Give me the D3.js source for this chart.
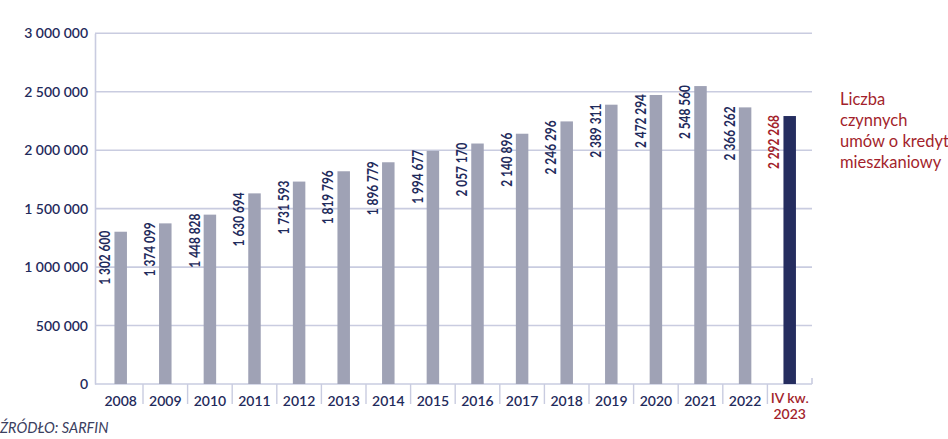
<!DOCTYPE html>
<html><head><meta charset="utf-8">
<script src="https://cdn.jsdelivr.net/npm/d3@7"></script>
<style>
html,body{margin:0;padding:0;background:#fff;}
svg{display:block;font-family:Lato,"Open Sans",sans-serif;}
</style></head>
<body><svg id="c" width="948" height="439"></svg>
<script>
const categories = ["2008","2009","2010","2011","2012","2013","2014","2015","2016","2017","2018","2019","2020","2021","2022","IV kw. 2023"];
const values = [1302600,1374099,1448828,1630694,1731593,1819796,1896779,1994677,2057170,2140896,2246296,2389311,2472294,2548560,2366262,2292268];
const yTicks = [0,500000,1000000,1500000,2000000,2500000,3000000];
const legendLines = ["Liczba","czynnych","umów o kredyt","mieszkaniowy"];
const sourceText = "ŹRÓDŁO: SARFIN";

const navy = "#1f2b5c", red = "#a31f2c", gray = "#9fa2b5", dark = "#252d5f", grid = "#c9cce0";
const svg = d3.select("#c");
const x0 = 95, x1 = 812, y0 = 384, yTop = 33.3;
const x = d3.scaleBand().domain(categories).range([98.4, x1]).paddingInner(0.72).paddingOuter(0.36);
const y = d3.scaleLinear().domain([0, 3000000]).range([y0, yTop]);
const loc = d3.formatLocale({decimal: ",", thousands: " ", grouping: [3], currency: ["", " zł"]});
const fmt = loc.format(",d");
const isLast = (d, i) => i === categories.length - 1;

// gridlines
svg.append("g").selectAll("line").data(yTicks.filter(t => t > 0)).join("line")
  .attr("x1", x0).attr("x2", x1).attr("y1", d => y(d)).attr("y2", d => y(d))
  .attr("stroke", grid).attr("stroke-width", 1.6);

// y axis
const ya = svg.append("g").attr("transform", `translate(${x0},0)`)
  .call(d3.axisLeft(y).tickValues(yTicks).tickSize(0).tickPadding(7).tickFormat(fmt));
ya.select(".domain").attr("stroke", grid).attr("stroke-width", 1.6);
ya.selectAll("text").attr("fill", navy).attr("font-size", 14).attr("font-weight", 600)
  .attr("font-family", "Lato, sans-serif");

// x axis line and separators
svg.append("line").attr("x1", x0).attr("x2", x1).attr("y1", y0).attr("y2", y0)
  .attr("stroke", grid).attr("stroke-width", 1.6);
const step = x.step();
const seps = categories.map(c => x(c) - (step - x.bandwidth()) / 2).slice(1);
svg.append("g").selectAll("line").data(seps).join("line")
  .attr("x1", d => d).attr("x2", d => d).attr("y1", y0).attr("y2", 404)
  .attr("stroke", grid).attr("stroke-width", 1.4);
svg.append("line").attr("x1", x1).attr("x2", x1).attr("y1", y0 - 6).attr("y2", y0)
  .attr("stroke", grid).attr("stroke-width", 1.6);

// bars
svg.append("g").selectAll("rect").data(values).join("rect")
  .attr("x", (d, i) => x(categories[i])).attr("width", x.bandwidth())
  .attr("y", d => y(d)).attr("height", d => y0 - y(d))
  .attr("fill", (d, i) => isLast(d, i) ? dark : gray);

// value labels (condensed look)
svg.append("g").selectAll("text").data(values).join("text")
  .attr("transform", (d, i) => `translate(${x(categories[i]) - 4},${y(d) - 1}) rotate(-90) scale(0.82,1)`)
  .attr("text-anchor", "end").attr("font-size", 14.5).attr("font-weight", 700)
  .attr("fill", (d, i) => isLast(d, i) ? red : navy)
  .text(d => fmt(d));

// category labels
const cl = svg.append("g").selectAll("text").data(categories).join("text")
  .attr("x", d => x(d) + x.bandwidth() / 2).attr("y", 405.5)
  .attr("text-anchor", "middle").attr("font-size", 14).attr("font-weight", 600)
  .attr("fill", (d, i) => isLast(d, i) ? red : navy);
cl.each(function(d) {
  const parts = d.split(" ");
  const sel = d3.select(this);
  if (parts.length > 2) {
    sel.append("tspan").attr("x", sel.attr("x")).attr("y", 403).text(parts[0] + " " + parts[1]);
    sel.append("tspan").attr("x", sel.attr("x")).attr("y", 419).text(parts[2]);
  } else sel.text(d);
});

// legend
svg.append("g").selectAll("text").data(legendLines).join("text")
  .attr("x", 840).attr("y", (d, i) => 105 + i * 21)
  .attr("font-size", 16.5).attr("fill", red).text(d => d);

// source
svg.append("text").attr("x", 0).attr("y", 433).attr("font-size", 14.5)
  .attr("font-style", "italic").attr("fill", "#3b4060").text(sourceText);
</script></body></html>
